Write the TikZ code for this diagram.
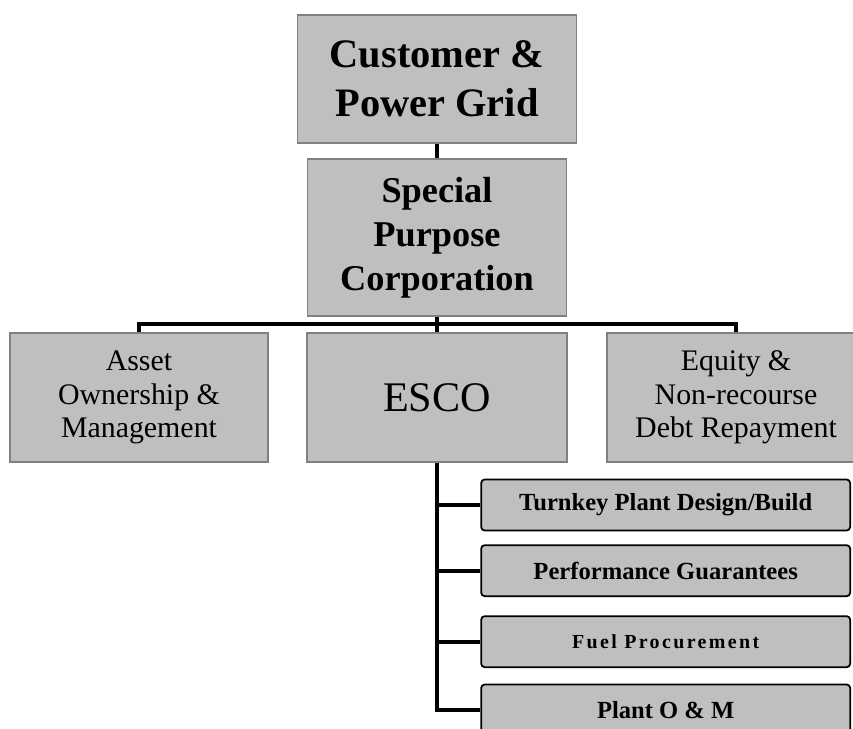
\documentclass[tikz,border=0pt]{standalone}
\usepackage{fontspec}
\setmainfont{Liberation Serif}

\tikzset{
  mainbox/.style={draw=black!50, fill=black!25, line width=1.6pt, align=center, inner sep=0pt},
  subbox/.style={draw=black, fill=black!25, line width=1.5pt, rounded corners=3pt,
    minimum width=11.07cm, minimum height=1.53cm, inner sep=0pt,
    font=\bfseries\fontsize{21}{25}\selectfont},
  link/.style={draw=black, line width=3.4pt},
}

\begin{document}
\begin{tikzpicture}
  \useasboundingbox (0.00,0.00) rectangle (25.59,-21.87);

	% top of the tree
	\node[mainbox, minimum width=8.37cm, minimum height=3.84cm,
	  font=\bfseries\fontsize{34.5}{42}\selectfont] (grid) at (13.11,-2.37) {Customer \&\\Power Grid};
	\node[mainbox, minimum width=7.77cm, minimum height=4.71cm,
	  font=\bfseries\fontsize{31}{37.5}\selectfont] (spc) at (13.11,-7.13) {Special\\Purpose\\Corporation};

	% middle row
	\node[mainbox, minimum width=7.74cm, minimum height=3.87cm,
	  font=\fontsize{25.5}{28.5}\selectfont] (asset) at (4.17,-11.93) {Asset\\Ownership \&\\Management};
	\node[mainbox, minimum width=7.80cm, minimum height=3.87cm,
	  font=\fontsize{36}{40}\selectfont] (esco) at (13.11,-11.93) {ESCO};
	\node[mainbox, minimum width=7.74cm, minimum height=3.87cm,
	  font=\fontsize{25.5}{28.5}\selectfont] (equity) at (22.08,-11.93) {Equity \&\\Non-recourse\\Debt Repayment};

	% what the ESCO takes on
	\node[subbox] (turnkey) at (19.97,-15.15) {Turnkey Plant Design/Build};
	\node[subbox] (perf) at (19.97,-17.12) {Performance Guarantees};
	\node[subbox, font=\bfseries\fontsize{17}{20}\selectfont\addfontfeature{LetterSpace=12}] (fuel) at (19.97,-19.25) {Fuel Procurement};
	\node[subbox] (om) at (19.97,-21.30) {Plant O \& M};

	\coordinate (hub) at (13.11,-9.72);

	\draw[link] (grid.south) -- (spc.north);
	\draw[link] (spc.south) -- (hub);
	\draw[link] (asset.north) |- (hub) -| (equity.north);
	\draw[link] (hub) -- (esco.north);

	\draw[link] (esco.south) |- (om.west);
	\foreach \b in {turnkey,perf,fuel}
	  \draw[link] (esco.south |- \b.west) -- (\b.west);
\end{tikzpicture}
\end{document}
